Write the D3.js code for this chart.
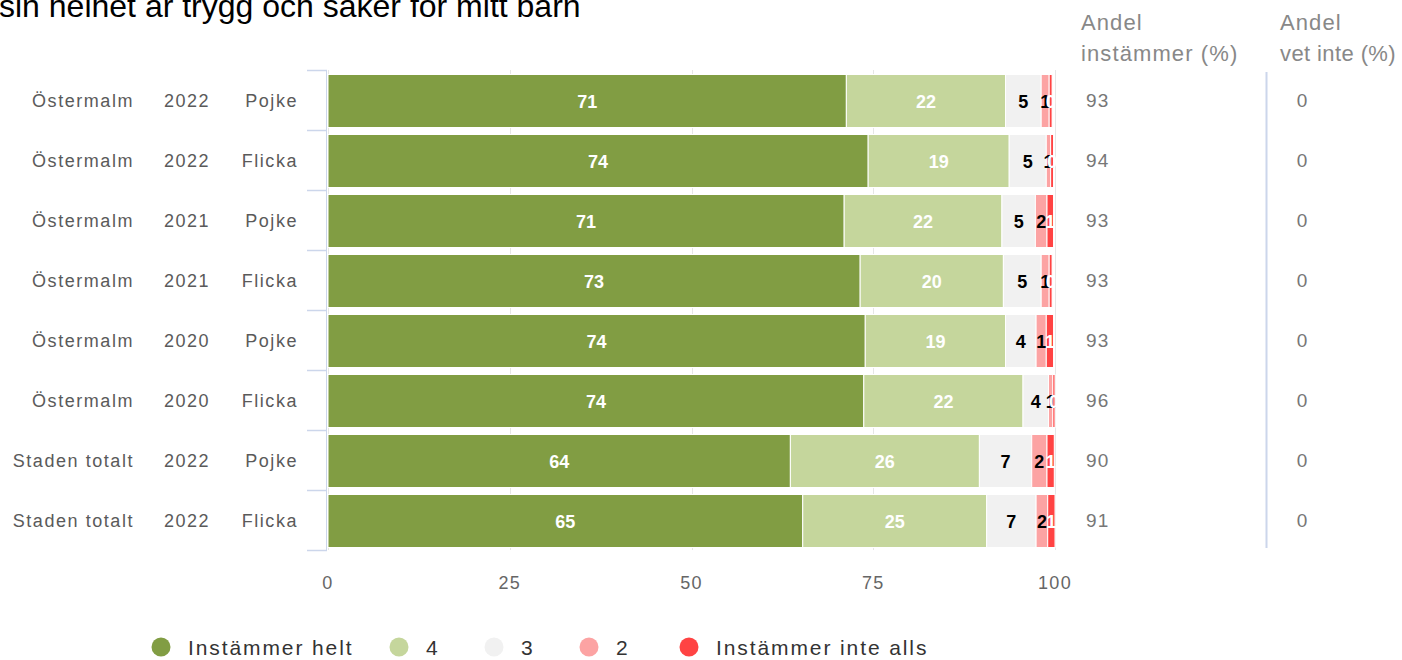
<!DOCTYPE html>
<html>
<head>
<meta charset="utf-8">
<script src="https://cdn.jsdelivr.net/npm/d3@7/dist/d3.min.js"></script>
<style>
  html, body { margin: 0; padding: 0; background: #fff; }
  svg { display: block; font-family: "Liberation Sans", Arial, sans-serif; }
</style>
</head>
<body>
<svg id="chart" width="1402" height="660"></svg>
<script>
// ---- data ----
const titleText = "sin helhet är trygg och säker för mitt barn";
const areas   = ["Östermalm", "Östermalm", "Östermalm", "Östermalm", "Östermalm", "Östermalm", "Staden totalt", "Staden totalt"];
const years   = ["2022", "2022", "2021", "2021", "2020", "2020", "2022", "2022"];
const genders = ["Pojke", "Flicka", "Pojke", "Flicka", "Pojke", "Flicka", "Pojke", "Flicka"];
const seriesNames = ["Instämmer helt", "4", "3", "2", "Instämmer inte alls"];
const seriesColors = ["#819d43", "#c5d69c", "#f1f1f1", "#fca3a3", "#ff4343"];
const labelColors = ["#ffffff", "#ffffff", "#000000", "#000000", "#ffffff"];
const instammerHelt  = [71.3, 74.3, 71.0, 73.2, 73.9, 73.7, 63.6, 65.3];
const fyra           = [21.9, 19.4, 21.7, 19.7, 19.3, 21.9, 26.0, 25.3];
const tre            = [4.9, 5.1, 4.6, 5.2, 4.2, 3.5, 7.2, 6.8];
const tva            = [1.1, 0.6, 1.6, 1.1, 1.4, 0.6, 2.1, 1.6];
const instammerInte  = [0.4, 0.4, 0.9, 0.4, 1.0, 0.3, 1.0, 1.0];
const andelInstammer = [93, 94, 93, 93, 93, 96, 90, 91];
const andelVetInte   = [0, 0, 0, 0, 0, 0, 0, 0];
const xTicks = [0, 25, 50, 75, 100];

const seriesValues = [instammerHelt, fyra, tre, tva, instammerInte];
const rows = areas.map((a, i) => ({ id: i, area: a, year: years[i], gender: genders[i] }));

const svg = d3.select("#chart");
const LS = "1.55px";

const x = d3.scaleLinear().domain([0, 100]).range([328, 1055]);
const y = d3.scaleBand().domain(rows.map(r => r.id)).range([70, 550]).padding(0);

// title (its first line lies above the view, as in the reference)
svg.append("text").attr("x", -1).attr("y", 17)
  .attr("font-size", 32).attr("fill", "#000")
  .text(titleText);

// gridlines
svg.append("g").selectAll("line").data(xTicks).join("line")
  .attr("x1", d => Math.round(x(d)) + 0.5).attr("x2", d => Math.round(x(d)) + 0.5)
  .attr("y1", 70).attr("y2", 550)
  .attr("stroke", "#e6e6e6").attr("stroke-width", 1);

// left category axis
const axisColor = "#ccd6eb";
svg.append("line").attr("x1", 326.5).attr("x2", 326.5).attr("y1", 70).attr("y2", 550)
  .attr("stroke", axisColor).attr("stroke-width", 1);
const tickYs = rows.map(r => y(r.id)).concat([y(rows[rows.length - 1].id) + y.bandwidth()]);
svg.append("g").selectAll("line").data(tickYs).join("line")
  .attr("x1", 307).attr("x2", 327).attr("y1", d => d + 0.5).attr("y2", d => d + 0.5)
  .attr("stroke", axisColor).attr("stroke-width", 1.5);

// stacked bars
const stackData = rows.map((r, i) => {
  const o = { id: r.id };
  seriesNames.forEach((s, k) => o[s] = seriesValues[k][i]);
  return o;
});
const stacked = d3.stack().keys(seriesNames)(stackData);

const barTop = 4.5, barH = 53;
const gBars = svg.append("g");
stacked.forEach((layer, k) => {
  gBars.append("g").selectAll("rect").data(layer).join("rect")
    .attr("x", d => x(d[0]))
    .attr("y", d => y(d.data.id) + barTop)
    .attr("width", d => Math.max(0, x(d[1]) - x(d[0])))
    .attr("height", barH)
    .attr("fill", seriesColors[k])
    .attr("stroke", "#fff").attr("stroke-width", 1);
});

// data labels clipped to plot area
svg.append("clipPath").attr("id", "plotclip").append("rect")
  .attr("x", 326).attr("y", 60).attr("width", 730).attr("height", 500);
const gLab = svg.append("g").attr("clip-path", "url(#plotclip)");
stacked.forEach((layer, k) => {
  gLab.append("g").selectAll("text").data(layer).join("text")
    .attr("x", d => (x(d[0]) + x(d[1])) / 2)
    .attr("y", d => y(d.data.id) + barTop + barH / 2 + 6.5)
    .attr("text-anchor", "middle")
    .attr("font-size", 18).attr("font-weight", "bold")
    .attr("fill", labelColors[k])
    .text(d => Math.round(d[1] - d[0]));
});

// category labels
const labFill = "#5a5a5a";
const gCat = svg.append("g").attr("font-size", 18).attr("fill", labFill).style("letter-spacing", LS);
gCat.selectAll("text.area").data(rows).join("text").attr("class", "area")
  .attr("x", 134).attr("y", d => y(d.id) + y.bandwidth() / 2 + 7)
  .attr("text-anchor", "end").text(d => d.area);
gCat.selectAll("text.year").data(rows).join("text").attr("class", "year")
  .attr("x", 187).attr("y", d => y(d.id) + y.bandwidth() / 2 + 7)
  .attr("text-anchor", "middle").text(d => d.year);
gCat.selectAll("text.gender").data(rows).join("text").attr("class", "gender")
  .attr("x", 298).attr("y", d => y(d.id) + y.bandwidth() / 2 + 7)
  .attr("text-anchor", "end").text(d => d.gender);

// x axis tick labels
svg.append("g").attr("font-size", 18).attr("fill", "#666").style("letter-spacing", "1.3px")
  .selectAll("text").data(xTicks).join("text")
  .attr("x", d => x(d)).attr("y", 589).attr("text-anchor", "middle").text(d => d);

// right columns
const colFill = "#777";
const hdr = svg.append("g").attr("font-size", 22).attr("fill", "#888");
hdr.append("text").attr("x", 1081).attr("y", 30).style("letter-spacing", "1.1px").text("Andel");
hdr.append("text").attr("x", 1081).attr("y", 61).style("letter-spacing", "1.1px").text("instämmer (%)");
hdr.append("text").attr("x", 1280).attr("y", 30).style("letter-spacing", "1.1px").text("Andel");
hdr.append("text").attr("x", 1280).attr("y", 61).style("letter-spacing", "0.4px").text("vet inte (%)");

svg.append("g").attr("font-size", 19).attr("fill", colFill).style("letter-spacing", "1.2px")
  .selectAll("text").data(rows).join("text")
  .attr("x", 1086).attr("y", d => y(d.id) + y.bandwidth() / 2 + 7)
  .text(d => andelInstammer[d.id]);

svg.append("line").attr("x1", 1266.5).attr("x2", 1266.5).attr("y1", 72).attr("y2", 548)
  .attr("stroke", axisColor).attr("stroke-width", 2);

svg.append("g").attr("font-size", 19).attr("fill", colFill)
  .selectAll("text").data(rows).join("text")
  .attr("x", 1302).attr("y", d => y(d.id) + y.bandwidth() / 2 + 7)
  .attr("text-anchor", "middle")
  .text(d => andelVetInte[d.id]);

// legend
const legendX = [161, 399, 494, 589, 689];
const gLeg = svg.append("g");
seriesNames.forEach((s, k) => {
  gLeg.append("circle").attr("cx", legendX[k]).attr("cy", 647).attr("r", 9.5).attr("fill", seriesColors[k]);
  gLeg.append("text").attr("x", legendX[k] + 27).attr("y", 655)
    .attr("font-size", 21).attr("fill", "#333").style("letter-spacing", "1.9px").text(s);
});
</script>
</body>
</html>
